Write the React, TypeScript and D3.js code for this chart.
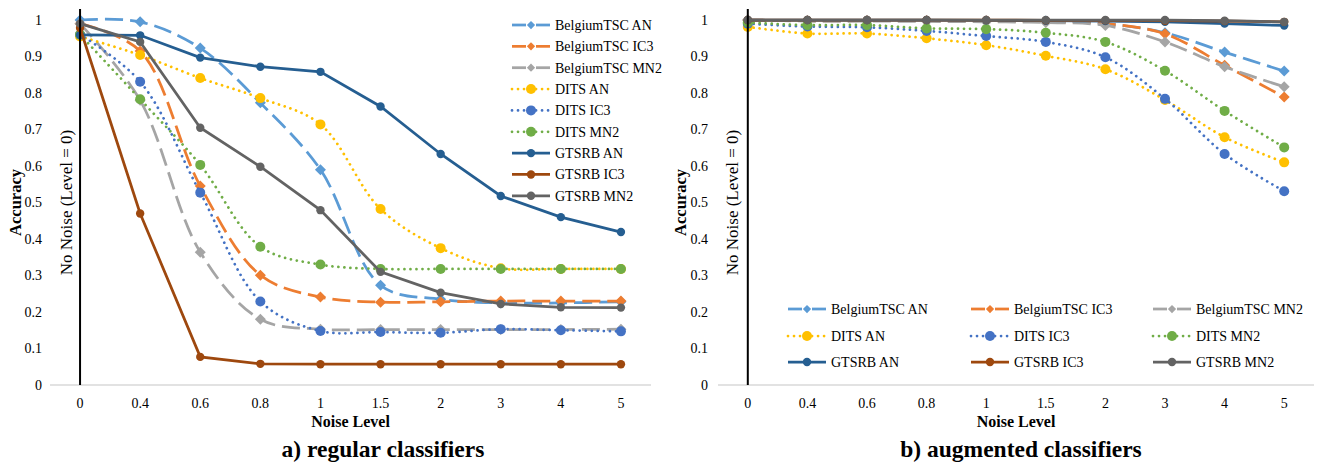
import React from "react";
import * as d3 from "d3";

// Noise levels on the x axis (categorical)
const levels = ["0", "0.4", "0.6", "0.8", "1", "1.5", "2", "3", "4", "5"];
const yTicks = [0, 0.1, 0.2, 0.3, 0.4, 0.5, 0.6, 0.7, 0.8, 0.9, 1];

const seriesNames = [
  "BelgiumTSC AN",
  "BelgiumTSC IC3",
  "BelgiumTSC MN2",
  "DITS AN",
  "DITS IC3",
  "DITS MN2",
  "GTSRB AN",
  "GTSRB IC3",
  "GTSRB MN2",
];

// a) regular classifiers
const regBelgiumAN = [1.0, 0.995, 0.923, 0.773, 0.59, 0.273, 0.235, 0.225, 0.225, 0.228];
const regBelgiumIC3 = [0.99, 0.915, 0.545, 0.301, 0.241, 0.227, 0.228, 0.23, 0.23, 0.23];
const regBelgiumMN2 = [0.99, 0.78, 0.364, 0.18, 0.153, 0.152, 0.152, 0.152, 0.152, 0.153];
const regDitsAN = [0.955, 0.904, 0.841, 0.786, 0.714, 0.482, 0.375, 0.32, 0.318, 0.318];
const regDitsIC3 = [0.96, 0.831, 0.527, 0.229, 0.148, 0.145, 0.143, 0.153, 0.15, 0.147];
const regDitsMN2 = [0.96, 0.783, 0.603, 0.379, 0.33, 0.318, 0.318, 0.318, 0.318, 0.318];
const regGtsrbAN = [0.959, 0.958, 0.897, 0.872, 0.858, 0.763, 0.633, 0.518, 0.46, 0.419];
const regGtsrbIC3 = [0.978, 0.47, 0.077, 0.058, 0.057, 0.057, 0.057, 0.057, 0.057, 0.057];
const regGtsrbMN2 = [0.99, 0.94, 0.705, 0.598, 0.479, 0.31, 0.253, 0.222, 0.213, 0.212];

// b) augmented classifiers
const augBelgiumAN = [1.0, 0.998, 0.998, 0.998, 0.998, 0.997, 0.99, 0.965, 0.912, 0.86];
const augBelgiumIC3 = [1.0, 0.998, 0.998, 0.998, 0.997, 0.995, 0.99, 0.962, 0.876, 0.789];
const augBelgiumMN2 = [1.0, 0.997, 0.997, 0.996, 0.995, 0.993, 0.985, 0.94, 0.872, 0.817];
const augDitsAN = [0.981, 0.963, 0.963, 0.95, 0.931, 0.902, 0.865, 0.781, 0.679, 0.61];
const augDitsIC3 = [0.99, 0.982, 0.98, 0.97, 0.956, 0.94, 0.898, 0.784, 0.633, 0.531];
const augDitsMN2 = [0.993, 0.986, 0.986, 0.977, 0.975, 0.965, 0.94, 0.861, 0.751, 0.651];
const augGtsrbAN = [1.0, 1.0, 1.0, 1.0, 0.999, 0.998, 0.997, 0.995, 0.99, 0.985];
const augGtsrbIC3 = [1.0, 1.0, 1.0, 1.0, 1.0, 0.999, 0.999, 0.998, 0.997, 0.995];
const augGtsrbMN2 = [1.0, 1.0, 1.0, 1.0, 1.0, 1.0, 1.0, 1.0, 0.998, 0.995];

const regular = [regBelgiumAN, regBelgiumIC3, regBelgiumMN2, regDitsAN, regDitsIC3, regDitsMN2, regGtsrbAN, regGtsrbIC3, regGtsrbMN2];
const augmented = [augBelgiumAN, augBelgiumIC3, augBelgiumMN2, augDitsAN, augDitsIC3, augDitsMN2, augGtsrbAN, augGtsrbIC3, augGtsrbMN2];

type Style = { color: string; kind: "dash" | "dot" | "solid"; marker: "diamond" | "circle" | "small" };
const styles: Style[] = [
  { color: "#5B9BD5", kind: "dash", marker: "diamond" },
  { color: "#ED7D31", kind: "dash", marker: "diamond" },
  { color: "#A5A5A5", kind: "dash", marker: "diamond" },
  { color: "#FFC000", kind: "dot", marker: "circle" },
  { color: "#4472C4", kind: "dot", marker: "circle" },
  { color: "#70AD47", kind: "dot", marker: "circle" },
  { color: "#255E91", kind: "solid", marker: "small" },
  { color: "#9E480E", kind: "solid", marker: "small" },
  { color: "#636363", kind: "solid", marker: "small" },
];

const FONT = "Liberation Serif";
const yTop = 20;
const yBottom = 385;

const dashOf = (k: string) => (k === "dash" ? "18 7" : k === "dot" ? "0.01 6" : undefined);

function Marker({ s, x, y, scale = 1 }: { s: Style; x: number; y: number; scale?: number }) {
  if (s.marker === "diamond") {
    const r = 5.5 * scale;
    return <path d={`M${x},${y - r}L${x + r},${y}L${x},${y + r}L${x - r},${y}Z`} fill={s.color} />;
  }
  const r = s.marker === "circle" ? 5 : 4.2;
  return <circle cx={x} cy={y} r={r} fill={s.color} />;
}

function LegendItem({ s, name, x, y }: { s: Style; name: string; x: number; y: number }) {
  const mid = x + 19;
  return (
    <g>
      {s.kind === "dash" ? (
        <>
          <line x1={x} x2={mid - 5} y1={y} y2={y} stroke={s.color} strokeWidth={2.75} />
          <line x1={mid + 5} x2={x + 38} y1={y} y2={y} stroke={s.color} strokeWidth={2.75} />
        </>
      ) : (
        <line
          x1={x}
          x2={x + 38}
          y1={y}
          y2={y}
          stroke={s.color}
          strokeWidth={2.75}
          strokeDasharray={dashOf(s.kind)}
          strokeLinecap={s.kind === "dot" ? "round" : "butt"}
        />
      )}
      <Marker s={s} x={mid} y={y} scale={0.75} />
      <text x={x + 43} y={y + 4.8} fontSize={14} fontFamily={FONT} fill="#000">
        {name}
      </text>
    </g>
  );
}

function Panel({
  data,
  x0,
  x1,
  tickX,
  accX,
  noiseX,
  subtitle,
  subX,
  legend,
}: {
  data: number[][];
  x0: number;
  x1: number;
  tickX: number;
  accX: number;
  noiseX: number;
  subtitle: string;
  subX: number;
  legend: { x: number; y: number }[];
}) {
  const x = d3.scaleBand().domain(levels).range([x0, x1]);
  const cx = (l: string) => (x(l) as number) + x.bandwidth() / 2;
  const y = d3.scaleLinear().domain([0, 1]).range([yBottom, yTop]);
  const yc = (yTop + yBottom) / 2;

  return (
    <g>
      {/* baseline */}
      <line x1={x0} x2={x1} y1={y(0)} y2={y(0)} stroke="#D9D9D9" strokeWidth={1.5} />
      {yTicks.map((t) => (
        <text key={t} x={tickX} y={y(t) + 4.7} textAnchor="end" fontSize={14} fontFamily={FONT}>
          {d3.format("~g")(t)}
        </text>
      ))}
      {levels.map((l) => (
        <text key={l} x={cx(l)} y={408} textAnchor="middle" fontSize={14} fontFamily={FONT}>
          {l}
        </text>
      ))}
      {data.map((vals, i) => {
        const s = styles[i];
        const line = d3
          .line<number>()
          .x((_, j) => cx(levels[j]))
          .y((v) => y(v))
          .curve(s.kind === "solid" ? d3.curveLinear : d3.curveCatmullRom.alpha(0.5));
        return (
          <g key={i}>
            <path
              d={line(vals) || ""}
              fill="none"
              stroke={s.color}
              strokeWidth={2.75}
              strokeDasharray={dashOf(s.kind)}
              strokeLinecap={s.kind === "dot" ? "round" : "butt"}
            />
            {vals.map((v, j) => (
              <Marker key={j} s={s} x={cx(levels[j])} y={y(v)} />
            ))}
          </g>
        );
      })}
      {/* No-noise reference line */}
      <line x1={cx("0")} x2={cx("0")} y1={9} y2={yBottom} stroke="#000" strokeWidth={2} />
      <text
        transform={`translate(${accX},${yc}) rotate(-90)`}
        textAnchor="middle"
        fontSize={16.5}
        fontWeight="bold"
        fontFamily={FONT}
      >
        Accuracy
      </text>
      <text
        transform={`translate(${noiseX},${yc}) rotate(-90)`}
        textAnchor="middle"
        fontSize={17}
        fontFamily={FONT}
      >
        No Noise (Level = 0)
      </text>
      <text x={(x0 + x1) / 2} y={427} textAnchor="middle" fontSize={16} fontWeight="bold" fontFamily={FONT}>
        Noise Level
      </text>
      <text x={subX} y={457} textAnchor="middle" fontSize={23.5} fontWeight="bold" fontFamily={FONT}>
        {subtitle}
      </text>
      {seriesNames.map((n, i) => (
        <LegendItem key={n} s={styles[i]} name={n} x={legend[i].x} y={legend[i].y} />
      ))}
    </g>
  );
}

export default function App() {
  const leftLegend = seriesNames.map((_, i) => ({ x: 512, y: 25 + i * 21.35 }));
  const cols = [788, 971, 1153];
  const rows = [309, 336, 362];
  const rightLegend = seriesNames.map((_, i) => ({ x: cols[i % 3], y: rows[Math.floor(i / 3)] }));
  return (
    <svg width={1319} height={463} style={{ position: "absolute", left: 0, top: 0, background: "#fff" }}>
      <rect width={1319} height={463} fill="#fff" />
      <Panel
        data={regular}
        x0={50}
        x1={651}
        tickX={42}
        accX={21}
        noiseX={72}
        subtitle="a) regular classifiers"
        subX={383}
        legend={leftLegend}
      />
      <Panel
        data={augmented}
        x0={718}
        x1={1314}
        tickX={708}
        accX={686}
        noiseX={738}
        subtitle="b) augmented classifiers"
        subX={1021}
        legend={rightLegend}
      />
    </svg>
  );
}
